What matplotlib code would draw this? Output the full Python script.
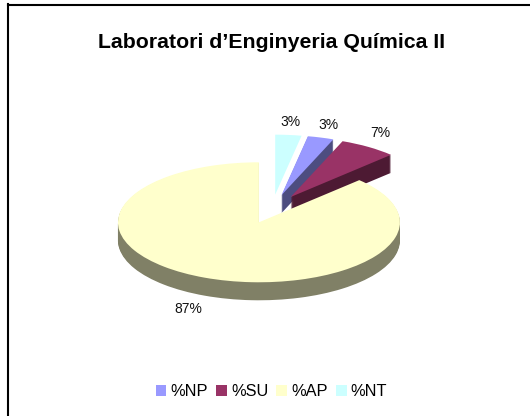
import matplotlib
matplotlib.use("Agg")
import matplotlib.pyplot as plt
from matplotlib.lines import Line2D
from matplotlib.patches import Rectangle

plt.rcParams['font.family'] = ['Liberation Sans', 'DejaVu Sans']

title = "Laboratori d’Enginyeria Química II"
categories = ["%NP", "%SU", "%AP", "%NT"]
values = [3.0, 6.6, 87.4, 3.0]
colors = ["#9999FF", "#993366", "#FFFFCC", "#CCFFFF"]
side_colors = ["#4D4D80", "#4D1A33", "#808066", "#668080"]

W, H = 530, 416
EXPLODE = 0.24
start = 90 - values[3] * 3.6

fig = plt.figure(figsize=(W / 100, H / 100), dpi=100)
fig.patch.set_facecolor("white")
# the pie axes is squashed so the circle comes out as the tilted ellipse
ax = fig.add_axes([0, 0, 1, 1])
cx, cy, rx, ry, depth = 272, 209, 141, 60, 18


def draw_slice(i, face, dy=0.0):
    # keep the angle of the slice by starting after the ones before it
    ang = start - sum(values[:i]) * 3.6
    wedges, _ = ax.pie([values[i], 100 - values[i]], colors=[face, "none"],
                       startangle=ang, counterclock=False,
                       explode=[EXPLODE, 0], center=(0, dy), radius=1,
                       normalize=True, frame=True)
    for w in wedges:
        w.set_linewidth(0)


# back slices first, the big one goes on top of their sides
for i in [3, 0, 1, 2]:
    if i != 3:
        for d in range(depth, 0, -1):
            draw_slice(i, side_colors[i], dy=-d / ry)
    draw_slice(i, colors[i])

ax.set_aspect("auto")
ax.set_xlim(-cx / rx, (W - cx) / rx)
ax.set_ylim(-(H - cy) / ry, cy / ry)
ax.axis("off")

label_px = [(328, 125), (380, 133), (188, 309), (290, 122)]
for i, (px, py) in enumerate(label_px):
    x, y = (px - cx) / rx, (cy - py) / ry
    ax.text(x, y, "%.0f%%" % values[i], ha="center", va="center", fontsize=10, color="#111111")

fig.text(272 / W, 1 - 42 / H, title, ha="center", va="center", fontsize=15.3, fontweight="bold", color="black")

handles = [Rectangle((0, 0), 1, 1, facecolor=c, edgecolor="none") for c in colors]
fig.legend(handles, categories, loc="center", bbox_to_anchor=(271.5 / W, 1 - 392 / H), ncol=4, frameon=False,
           fontsize=11.8, handlelength=0.65, handleheight=0.65, handletextpad=0.25, columnspacing=0.5)

# only the top and left edges of the box are in the picture
fig.add_artist(Line2D([8 / W, 8 / W], [0, 1 - 4 / H], color="black", linewidth=1.5, solid_capstyle="projecting"))
fig.add_artist(Line2D([8 / W, 1], [1 - 5 / H, 1 - 5 / H], color="black", linewidth=1.5))
fig.savefig("out.png", dpi=100)
